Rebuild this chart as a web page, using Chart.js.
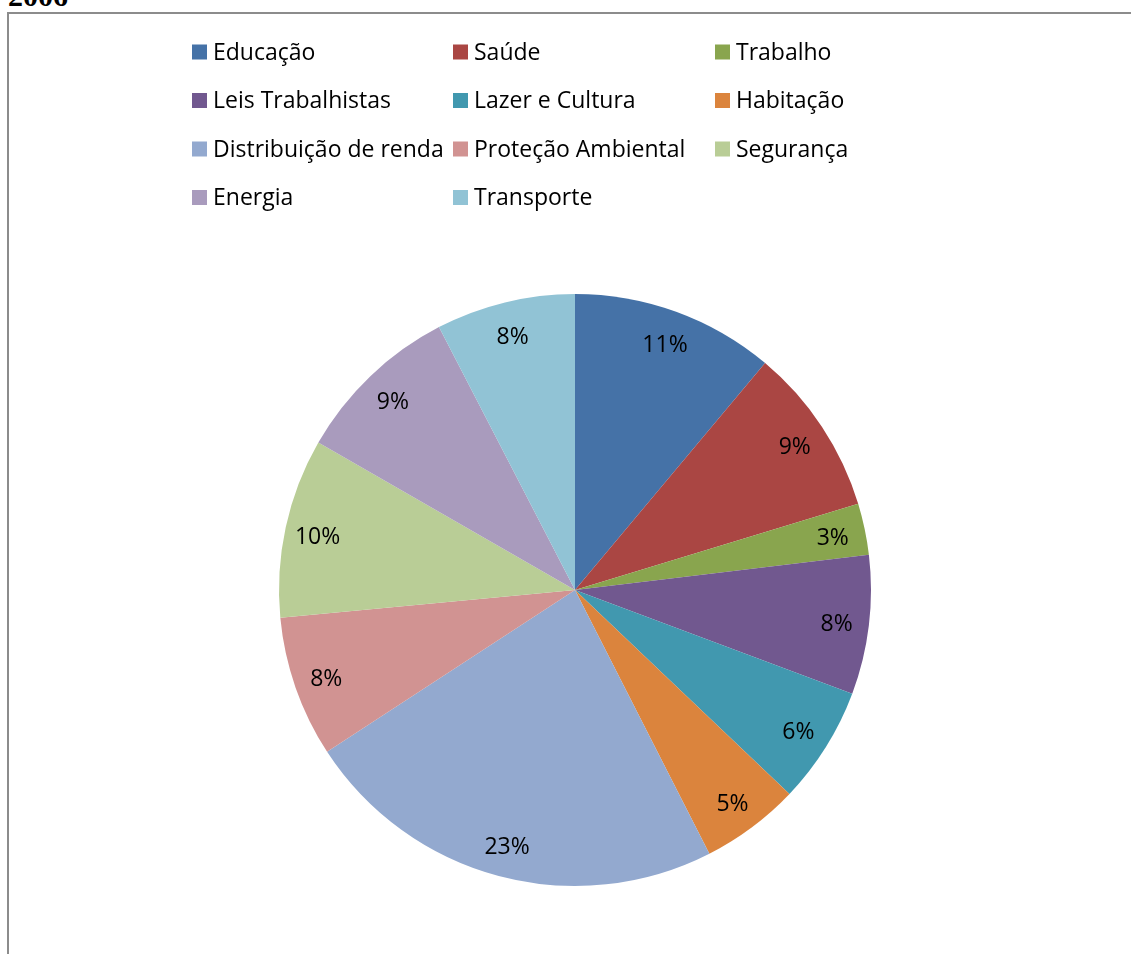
<!DOCTYPE html>
<html>
<head>
<meta charset="utf-8">
<script src="https://cdn.jsdelivr.net/npm/chart.js@4"></script>
<style>
    html, body { margin: 0; padding: 0; background: #fff; overflow: hidden; }
    #wrap { position: relative; width: 1131px; height: 954px; }
    #year { position: absolute; left: 8px; top: -19px; font-weight: bold; font-size: 30px;
            font-family: "Liberation Serif", "Times New Roman", "DejaVu Serif", serif; color: #000; line-height: 30px; }
    #frame { position: absolute; left: 7px; top: 12px; width: 1200px; height: 1000px;
             border-left: 2px solid #8c8c8c; border-top: 2px solid #8c8c8c; }
    #chartBox { position: absolute; left: 0; top: 0; width: 1131px; height: 954px; }
</style>
</head>
<body>
<div id="wrap">
    <div id="year">2006</div>
    <div id="frame"></div>
    <div id="chartBox"><canvas id="pieChart" width="1131" height="954"></canvas></div>
</div>
<script>
// Dados do gráfico (percentuais)
const categorias = ['Educação', 'Saúde', 'Trabalho', 'Leis Trabalhistas', 'Lazer e Cultura', 'Habitação',
    'Distribuição de renda', 'Proteção Ambiental', 'Segurança', 'Energia', 'Transporte'];
const valores = [11.1, 9.2, 2.8, 7.6, 6.4, 5.4, 23.3, 7.7, 9.8, 9.1, 7.6];
const cores = ['#4572A7', '#AA4643', '#89A54E', '#71588F', '#4198AF', '#DB843D',
    '#93A9CF', '#D19392', '#B9CD96', '#A99BBD', '#91C3D5'];

const FONTE = '23px "Open Sans", sans-serif';

// Legenda em grade de 3 colunas (estilo Excel)
const legendaGrade = {
    id: 'legendaGrade',
    afterDraw(chart) {
        const ctx = chart.ctx;
        const colX = [192, 453, 715];
        const y0 = 52, passo = 48.5, box = 15;
        ctx.save();
        ctx.font = FONTE;
        ctx.textBaseline = 'middle';
        ctx.textAlign = 'left';
        chart.data.labels.forEach((lbl, i) => {
            const x = colX[i % 3];
            const y = y0 + Math.floor(i / 3) * passo;
            ctx.fillStyle = chart.data.datasets[0].backgroundColor[i];
            ctx.fillRect(x, y - box / 2, box, box);
            ctx.fillStyle = '#000';
            ctx.fillText(lbl, x + 21, y + 1);
        });
        ctx.restore();
    }
};

// Rótulos de porcentagem dentro das fatias
const rotulos = {
    id: 'rotulos',
    afterDatasetsDraw(chart) {
        const ctx = chart.ctx;
        const meta = chart.getDatasetMeta(0);
        const total = chart.data.datasets[0].data.reduce((a, b) => a + b, 0);
        ctx.save();
        ctx.font = FONTE;
        ctx.fillStyle = '#000';
        ctx.textAlign = 'center';
        ctx.textBaseline = 'middle';
        meta.data.forEach((arc, i) => {
            const p = arc.getProps(['x', 'y', 'startAngle', 'endAngle', 'outerRadius'], true);
            const meio = (p.startAngle + p.endAngle) / 2;
            const r = p.outerRadius * 0.89;
            const pct = Math.round(chart.data.datasets[0].data[i] / total * 100);
            ctx.fillText(pct + '%', p.x + Math.cos(meio) * r, p.y + Math.sin(meio) * r + 3);
        });
        ctx.restore();
    }
};

new Chart(document.getElementById('pieChart'), {
    type: 'pie',
    data: {
        labels: categorias,
        datasets: [{ data: valores, backgroundColor: cores, borderWidth: 0 }]
    },
    options: {
        responsive: false,
        animation: false,
        layout: { padding: { left: 279, right: 260, top: 294, bottom: 68 } },
        plugins: { legend: { display: false }, tooltip: { enabled: false } }
    },
    plugins: [legendaGrade, rotulos]
});
</script>
</body>
</html>
